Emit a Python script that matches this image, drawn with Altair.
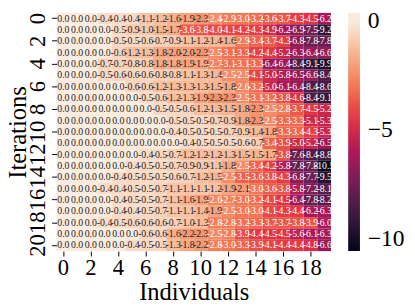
import altair as alt
import pandas as pd

individuals = list(range(20))
iterations = list(range(21))

row00 = [0.0, 0.0, 0.0, -0.4, -0.4, -0.4, -1.1, -1.2, -1.6, -1.9, -2.3, -2.4, -2.9, -3.0, -3.2, -3.6, -3.7, -4.3, -4.5, -6.2]
row01 = [0.0, 0.0, 0.0, 0.0, -0.5, -0.9, -1.0, -1.5, -1.7, -3.6, -3.8, -4.0, -4.1, -4.2, -4.3, -4.9, -6.2, -6.9, -7.5, -9.2]
row02 = [0.0, 0.0, 0.0, 0.0, -0.5, -0.5, -0.6, -0.7, -0.9, -1.1, -1.2, -1.4, -1.6, -2.9, -3.4, -3.7, -4.3, -6.8, -7.8, -7.8]
row03 = [0.0, 0.0, 0.0, 0.0, -0.6, -1.2, -1.3, -1.8, -2.0, -2.0, -2.3, -2.5, -3.1, -3.3, -4.2, -4.4, -5.2, -6.3, -6.4, -6.6]
row04 = [0.0, 0.0, 0.0, -0.7, -0.7, -0.8, -0.8, -1.8, -1.8, -1.9, -1.9, -2.7, -3.1, -3.1, -3.3, -6.4, -6.4, -8.4, -9.1, -9.9]
row05 = [0.0, 0.0, 0.0, -0.5, -0.6, -0.6, -0.6, -0.8, -0.8, -1.1, -1.3, -1.4, -2.5, -2.5, -4.1, -5.0, -5.8, -6.5, -6.6, -8.4]
row06 = [0.0, 0.0, 0.0, 0.0, 0.0, -0.6, -0.6, -1.2, -1.3, -1.3, -1.3, -1.5, -1.8, -2.6, -3.2, -5.0, -6.1, -6.4, -8.4, -8.6]
row07 = [0.0, 0.0, 0.0, 0.0, 0.0, 0.0, -0.5, -0.6, -1.2, -1.3, -1.9, -2.3, -2.3, -2.5, -3.1, -3.2, -3.8, -4.6, -8.4, -9.1]
row08 = [0.0, 0.0, 0.0, 0.0, 0.0, 0.0, 0.0, -0.5, -0.5, -0.6, -1.2, -1.3, -1.5, -1.8, -2.3, -2.5, -2.8, -3.7, -4.5, -5.2]
row09 = [0.0, 0.0, 0.0, 0.0, 0.0, 0.0, 0.0, 0.0, -0.5, -0.5, -0.5, -0.7, -0.9, -1.8, -2.3, -2.5, -3.3, -3.3, -5.1, -5.3]
row10 = [0.0, 0.0, 0.0, 0.0, 0.0, 0.0, 0.0, 0.0, -0.4, -0.5, -0.5, -0.5, -0.7, -0.9, -1.4, -1.8, -3.3, -3.4, -4.3, -5.3]
row11 = [0.0, 0.0, 0.0, 0.0, 0.0, 0.0, 0.0, 0.0, 0.0, -0.4, -0.5, -0.5, -0.5, -0.6, -0.7, -3.4, -3.9, -5.0, -5.2, -6.5]
row12 = [0.0, 0.0, 0.0, 0.0, 0.0, 0.0, -0.4, -0.5, -0.7, -1.2, -1.2, -1.2, -1.3, -1.5, -1.5, -1.7, -3.8, -7.6, -8.4, -8.8]
row13 = [0.0, 0.0, 0.0, 0.0, 0.0, -0.4, -0.5, -0.5, -0.7, -0.9, -0.9, -1.1, -1.8, -2.5, -3.4, -4.2, -5.8, -7.8, -7.8, -10.5]
row14 = [0.0, 0.0, 0.0, 0.0, -0.4, -0.5, -0.5, -0.5, -0.6, -0.7, -1.2, -1.5, -2.5, -3.5, -3.6, -3.8, -4.3, -6.8, -7.7, -9.5]
row15 = [0.0, 0.0, 0.0, -0.4, -0.4, -0.5, -0.5, -0.7, -1.1, -1.1, -1.1, -1.2, -1.9, -2.1, -3.0, -3.6, -3.8, -5.8, -7.2, -8.1]
row16 = [0.0, 0.0, 0.0, 0.0, -0.4, -0.5, -0.5, -0.7, -1.1, -1.6, -1.9, -2.6, -2.7, -3.0, -3.2, -4.1, -4.5, -6.4, -7.8, -8.2]
row17 = [0.0, 0.0, 0.0, 0.0, -0.4, -0.4, -0.5, -0.7, -1.1, -1.1, -1.4, -1.9, -2.5, -3.0, -3.0, -4.1, -4.3, -4.4, -6.2, -6.3]
row18 = [0.0, 0.0, 0.0, -0.4, -0.5, -0.6, -0.6, -0.6, -0.7, -1.0, -1.3, -2.8, -2.8, -3.2, -3.3, -3.7, -3.7, -3.8, -3.9, -6.0]
row19 = [0.0, 0.0, 0.0, 0.0, 0.0, 0.0, -0.6, -0.6, -1.6, -2.2, -2.3, -2.5, -2.8, -3.9, -4.4, -4.5, -4.5, -5.6, -6.1, -6.3]
row20 = [0.0, 0.0, 0.0, 0.0, 0.0, -0.4, -0.5, -0.5, -1.3, -1.8, -2.2, -2.8, -3.0, -3.3, -3.9, -4.1, -4.4, -4.4, -4.8, -6.6]

rows = [row00, row01, row02, row03, row04, row05, row06, row07, row08, row09, row10,
        row11, row12, row13, row14, row15, row16, row17, row18, row19, row20]

x_ticks = [0, 2, 4, 6, 8, 10, 12, 14, 16, 18]
y_ticks = [0, 2, 4, 6, 8, 10, 12, 14, 16, 18, 20]
legend_ticks = [0, -5, -10]

# rocket colormap stops (lightest colour held slightly past 0 so the "0" label fits)
rocket = ["#03051a", "#35193e", "#701f57", "#ad1759", "#e13342", "#f37651", "#f6b48f", "#faebdd"]
vmin, vmax, vtop = -10.56, 0.0, 0.38
stops = [vmin + (vmax - vmin) * i / 7 for i in range(8)] + [vtop]
colours = rocket + ["#faebdd"]

records = []
for it, vals in zip(iterations, rows):
    for ind, v in zip(individuals, vals):
        records.append({"it": it, "ind": ind, "value": v, "label": f"{v:.1f}"})
df = pd.DataFrame(records)

FONT = "Liberation Serif"

base = alt.Chart(df).encode(
    x=alt.X("ind:O", scale=alt.Scale(paddingInner=0, paddingOuter=0),
            axis=alt.Axis(values=x_ticks, labelAngle=0, title="Individuals",
                          labelBaseline="alphabetic", labelPadding=19,
                          titleBaseline="alphabetic", titleY=49)),
    y=alt.Y("it:O", scale=alt.Scale(paddingInner=0, paddingOuter=0),
            axis=alt.Axis(values=y_ticks, labelAngle=270, title="Iterations",
                          labelAlign="center", labelBaseline="alphabetic", labelPadding=7.5,
                          titleBaseline="alphabetic", titleX=-31.5)),
)

rect = base.mark_rect(strokeWidth=0).encode(
    color=alt.Color("value:Q",
                    scale=alt.Scale(domain=stops, range=colours, interpolate="rgb"),
                    legend=alt.Legend(title=None, values=legend_ticks, gradientLength=243,
                                      gradientThickness=12, labelFontSize=24, labelFont=FONT,
                                      labelColor="black", labelOffset=8, padding=0,
                                      orient="none", legendX=297.5, legendY=0,
                                      gradientStrokeWidth=0))
)

text = base.mark_text(font=FONT, fontSize=10).encode(
    text="label:N",
    color=alt.condition(alt.datum.value > -2.35, alt.value("#262626"), alt.value("white")),
)

chart = (rect + text).properties(
    width=280, height=243,
    padding={"left": 49.5, "top": 2, "right": 77.5, "bottom": 54},
    autosize=alt.AutoSizeParams(type="none"),
).configure_axis(
    labelFont=FONT, labelFontSize=23, labelColor="black",
    titleFont=FONT, titleFontSize=25, titleFontWeight="normal", titleColor="black",
    domain=False, tickColor="black", tickSize=5, tickWidth=1, grid=False,
).configure_view(stroke=None)

chart.save("out.html", embed_options={"renderer": "svg", "actions": False})
